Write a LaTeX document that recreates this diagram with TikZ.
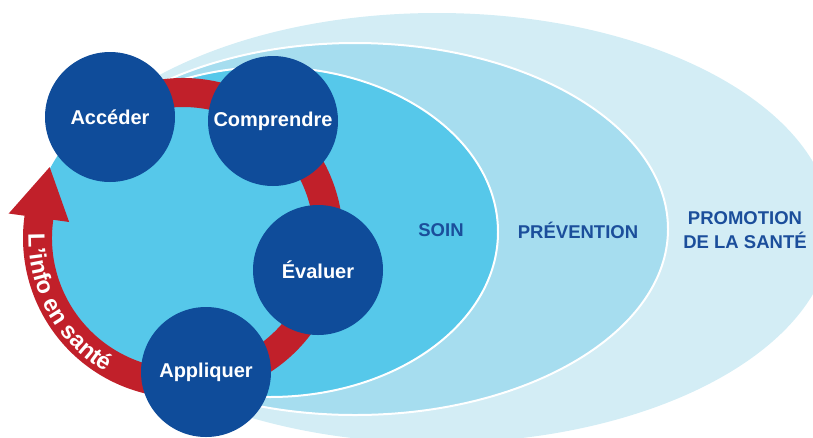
\documentclass[tikz,border=0pt]{standalone}
\usepackage{fontspec}
\setmainfont{Liberation Sans}
\usetikzlibrary{decorations.text,calc}
\definecolor{outerC}{HTML}{D3EDF5}
\definecolor{midC}{HTML}{A6DDEF}
\definecolor{innerC}{HTML}{56C8EA}
\definecolor{stepC}{HTML}{0F4C9A}
\definecolor{ringC}{HTML}{C1202A}
\definecolor{labelC}{HTML}{1B4E9B}
\begin{document}
\begin{tikzpicture}[x=1pt,y=1pt,
  stepnode/.style={circle, fill=stepC, minimum size=130pt, inner sep=0pt, text=white,
    font=\bfseries\fontsize{20}{24}\selectfont},
  zonelabel/.style={text=labelC, font=\bfseries\fontsize{18.5}{24}\selectfont, align=center}]
\useasboundingbox (0,0) rectangle (813,-437);
\clip (0,0) rectangle (813,-437);
% zones
\fill[outerC] (437,-228) ellipse [x radius=395, y radius=215];
\filldraw[fill=midC, draw=white, line width=2pt] (355,-229) ellipse [x radius=313, y radius=186];
\filldraw[fill=innerC, draw=white, line width=2pt] (270,-232) ellipse [x radius=228, y radius=165];
% cycle
\coordinate (rc) at (183,-238);
\fill[innerC] (rc) circle[radius=150];
\fill[ringC] ($(rc)+(120:160)$) arc[start angle=120, end angle=-188, radius=160]
  -- ($(rc)+(172:176)$) -- ($(rc)+(152:151)$) -- ($(rc)+(172:115)$) -- ($(rc)+(172:131)$)
  arc[start angle=-188, end angle=120, radius=131] -- cycle;
\path[decorate, decoration={text along path,
  text={|\bfseries\fontsize{23.5}{24}\selectfont\color{white}|L'info en santé}}]
  ($(rc)+(178.5:154.5)$) arc[start angle=178.5, end angle=258, radius=154.5];
% steps
\node[stepnode] (acc) at (110,-117) {Accéder};
\node[stepnode] (comp) at (273,-121) {Comprendre};
\node[stepnode] (eval) at (318,-270) {Évaluer};
\node[stepnode] (app) at (206,-372) {Appliquer};
% zone labels
\node[zonelabel] (soin) at (441,-230) {SOIN};
\node[zonelabel] (prev) at (578,-230) {PRÉVENTION};
\node[zonelabel] (promo) at (745,-230) {PROMOTION\\DE LA SANTÉ};
\end{tikzpicture}
\end{document}
